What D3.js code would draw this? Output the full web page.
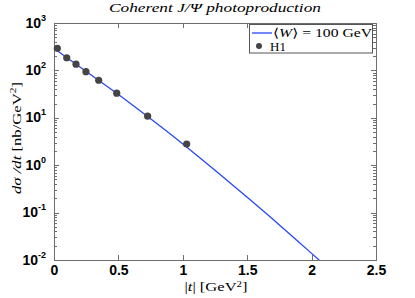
<!DOCTYPE html>
<html>
<head>
<meta charset="utf-8">
<script src="https://cdn.jsdelivr.net/npm/d3@7"></script>
<style>
  body { margin: 0; background: #fff; }
  svg { display: block; }
  .axis path, .axis line { stroke: #6e6e6e; shape-rendering: crispEdges; }
  .axis text { font-family: "Liberation Sans", Arial, sans-serif; font-weight: bold; font-size: 14px; fill: #000; }
  .lbl { font-family: "Liberation Serif", "DejaVu Serif", serif; fill: #000; }
</style>
</head>
<body>
<div id="chart"></div>
<script>
const svgWidth = 415;
const svgHeight = 298;
const margin = { top: 23, right: 39, bottom: 38, left: 54 };
const width = svgWidth - margin.left - margin.right;
const height = svgHeight - margin.top - margin.bottom;

// H1 data points
const h1T = [0.026, 0.099, 0.171, 0.248, 0.347, 0.487, 0.727, 1.03];
const h1Xsec = [292, 185, 135, 94, 62, 33, 10.8, 2.8];

// model curve <W> = 100 GeV
const curveT = [0, 0.25, 0.5, 0.75, 1.0, 1.25, 1.5, 1.75, 2.0, 2.1];
const curveXsec = [292, 95, 31, 9.5, 2.8, 0.78, 0.21, 0.055, 0.0138, 0.0079];

const xTicks = [0, 0.5, 1, 1.5, 2, 2.5];
const yTicks = [1e-2, 1e-1, 1e0, 1e1, 1e2, 1e3];

let svg = d3.select("#chart").append("svg").attr("width", svgWidth).attr("height", svgHeight);
let chrtgrp = svg.append("g").attr("transform", `translate(${margin.left}, ${margin.top})`);

let xlin = d3.scaleLinear().domain([0, 2.5]).range([0, width]);
let ylog = d3.scaleLog().domain([1e-2, 1e3]).range([height, 0]);

let minor = [];
yTicks.slice(0, -1).forEach(d => { for (let k = 2; k < 10; k++) minor.push(d * k); });

// clip for the curve
svg.append("defs").append("clipPath").attr("id", "clip")
  .append("rect").attr("width", width).attr("height", height);

// minor ticks (left & right)
chrtgrp.append("g").attr("class", "axis")
  .call(d3.axisLeft(ylog).tickValues(minor).tickSizeInner(-3).tickSizeOuter(0).tickFormat(""))
  .select(".domain").remove();
chrtgrp.append("g").attr("class", "axis").attr("transform", `translate(${width},0)`)
  .call(d3.axisRight(ylog).tickValues(minor).tickSizeInner(-3).tickSizeOuter(0).tickFormat(""))
  .select(".domain").remove();

// top & right frame
chrtgrp.append("g").attr("class", "axis")
  .call(d3.axisTop(xlin).tickValues(xTicks).tickSizeInner(-5).tickSizeOuter(0).tickFormat(""));
chrtgrp.append("g").attr("class", "axis").attr("transform", `translate(${width},0)`)
  .call(d3.axisRight(ylog).tickValues(yTicks).tickSizeInner(-5).tickSizeOuter(0).tickFormat(""));

// bottom axis
chrtgrp.append("g").attr("class", "axis").attr("transform", `translate(0,${height})`)
  .call(d3.axisBottom(xlin).tickValues(xTicks).tickSizeInner(-5).tickSizeOuter(0).tickPadding(5).tickFormat(d3.format("")));

// left axis with 10^n labels
let yAxis = chrtgrp.append("g").attr("class", "axis")
  .call(d3.axisLeft(ylog).tickValues(yTicks).tickSizeInner(-5).tickSizeOuter(0).tickPadding(8).tickFormat(""));
yAxis.selectAll(".tick text").each(function(d) {
  let t = d3.select(this).attr("dy", null).attr("y", 4);
  t.append("tspan").text("10");
  t.append("tspan").attr("dy", -7).style("font-size", "9px").text(Math.round(Math.log10(d)));
});

// curve
let line = d3.line().x(d => xlin(d[0])).y(d => ylog(d[1])).curve(d3.curveMonotoneX);
chrtgrp.append("path")
  .datum(curveT.map((t, i) => [t, curveXsec[i]]))
  .attr("clip-path", "url(#clip)")
  .attr("d", line)
  .attr("fill", "none")
  .attr("stroke", "#2747f5")
  .attr("stroke-width", 1.3);

// data points
chrtgrp.selectAll("circle.h1")
  .data(h1T.map((t, i) => [t, h1Xsec[i]]))
  .enter().append("circle")
  .attr("class", "h1")
  .attr("cx", d => xlin(d[0]))
  .attr("cy", d => ylog(d[1]))
  .attr("r", 3.6)
  .attr("fill", "#454545");

// legend
let lg = svg.append("g");
lg.append("rect").attr("x", 249.5).attr("y", 24.5).attr("width", 123).attr("height", 28.5)
  .attr("fill", "#fff").attr("stroke", "#555");
lg.append("line").attr("x1", 252).attr("x2", 272).attr("y1", 33).attr("y2", 33)
  .attr("stroke", "#2747f5").attr("stroke-width", 1.3);
let lt = lg.append("text").attr("class", "lbl").attr("x", 273).attr("y", 37)
  .attr("textLength", 99).attr("lengthAdjust", "spacingAndGlyphs")
  .style("font-size", "12.5px");
lt.append("tspan").text("\u27E8");
lt.append("tspan").style("font-style", "italic").text("W");
lt.append("tspan").text("\u27E9 = 100 GeV");
lg.append("circle").attr("cx", 259).attr("cy", 46).attr("r", 3).attr("fill", "#454545");
lg.append("text").attr("class", "lbl").attr("x", 270).attr("y", 50.5).style("font-size", "13px").text("H1");

// title
svg.append("text").attr("class", "lbl")
  .attr("x", margin.left + width / 2).attr("y", 12)
  .attr("text-anchor", "middle")
  .style("font-size", "13px").style("font-style", "italic")
  .attr("textLength", 212).attr("lengthAdjust", "spacingAndGlyphs")
  .text("Coherent J/\u03A8 photoproduction");

// x label
let xl = svg.append("text").attr("class", "lbl")
  .attr("x", 216).attr("y", 291)
  .attr("text-anchor", "middle").style("font-size", "13px")
  .attr("textLength", 63).attr("lengthAdjust", "spacingAndGlyphs");
xl.append("tspan").text("|");
xl.append("tspan").style("font-style", "italic").text("t");
xl.append("tspan").text("|  [GeV");
xl.append("tspan").attr("dy", -4).style("font-size", "8.5px").text("2");
xl.append("tspan").attr("dy", 4).text("]");

// y label
let yl = svg.append("text").attr("class", "lbl")
  .attr("transform", "translate(21, 138) rotate(-90)")
  .attr("text-anchor", "middle").style("font-size", "13px")
  .attr("textLength", 112).attr("lengthAdjust", "spacingAndGlyphs");
yl.append("tspan").style("font-style", "italic").text("d\u03C3 /dt");
yl.append("tspan").text("  [nb/GeV");
yl.append("tspan").attr("dy", -5).style("font-size", "9px").text("2");
yl.append("tspan").attr("dy", 5).text("]");
</script>
</body>
</html>
